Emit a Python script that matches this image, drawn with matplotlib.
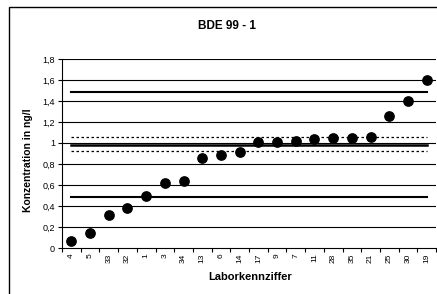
import matplotlib.pyplot as plt
from matplotlib.patches import Rectangle
import numpy as np

labs = ["4", "5", "33", "32", "1", "3", "34", "13", "6", "14",
        "17", "9", "7", "11", "28", "35", "21", "25", "30", "19"]
conc = [0.07, 0.14, 0.31, 0.38, 0.50, 0.62, 0.64, 0.86, 0.89, 0.91,
        1.01, 1.01, 1.02, 1.04, 1.05, 1.05, 1.06, 1.26, 1.40, 1.60]
mean_val = 0.985
upper_tol = 1.49
lower_tol = 0.49
upper_ci = 1.055
lower_ci = 0.925
yticks = [0, 0.2, 0.4, 0.6, 0.8, 1.0, 1.2, 1.4, 1.6, 1.8]
ytick_labs = ["0", "0,2", "0,4", "0,6", "0,8", "1", "1,2", "1,4", "1,6", "1,8"]

plt.rcParams['font.family'] = ['Liberation Sans', 'DejaVu Sans']

fig = plt.figure(figsize=(4.37, 2.94), dpi=100)
# outer chart frame (cut off at right/bottom like the reference)
fig.patches.append(Rectangle((9/437, -0.1), 1.2, 1 - 7/294 + 0.1,
                             transform=fig.transFigure, fill=False,
                             edgecolor="black", lw=1.0))

ax = fig.add_axes([62/437, 46/294, 374/437, 189/294])
x = np.arange(len(labs))

for yv in yticks[1:]:
    ax.axhline(yv, color="black", lw=0.8, zorder=1)

ax.plot([x[0], x[-1]], [upper_tol, upper_tol], color="black", lw=1.5, zorder=2)
ax.plot([x[0], x[-1]], [lower_tol, lower_tol], color="black", lw=1.5, zorder=2)
ax.plot([x[0], x[-1]], [mean_val, mean_val], color="black", lw=1.8, zorder=2)
ax.plot([x[0], x[-1]], [upper_ci, upper_ci], color="black", lw=0.9, ls=(0, (2, 2)), zorder=2)
ax.plot([x[0], x[-1]], [lower_ci, lower_ci], color="black", lw=0.9, ls=(0, (2, 2)), zorder=2)

ax.scatter(x, conc, s=45, color="black", zorder=3)

ax.set_xlim(-0.5, len(labs) - 0.5)
ax.set_ylim(0, 1.8)
ax.set_yticks(yticks)
ax.set_yticklabels(ytick_labs, fontsize=6.5)
ax.set_xticks(x)
ax.set_xticklabels(labs, rotation=90, fontsize=6)
ax.set_xticks(np.arange(-0.5, len(labs), 1), minor=True)
ax.tick_params(axis="x", which="major", length=0, pad=4)
ax.tick_params(axis="x", which="minor", length=3, width=0.8)
ax.tick_params(axis="y", length=3, width=0.8, pad=2)

for s in ["top", "right"]:
    ax.spines[s].set_visible(False)
ax.spines["left"].set_linewidth(0.8)
ax.spines["bottom"].set_linewidth(0.8)

fig.text(227/437, 1 - 26/294, "BDE 99 - 1", ha="center", va="center",
         fontsize=8.5, fontweight="bold")
fig.text(28/437, 1 - 160/294, "Konzentration in ng/l", ha="center", va="center",
         rotation=90, fontsize=7.5, fontweight="bold")
fig.text(250/437, 1 - 277/294, "Laborkennziffer", ha="center", va="center",
         fontsize=8, fontweight="bold")

fig.savefig("out.png", dpi=100)
